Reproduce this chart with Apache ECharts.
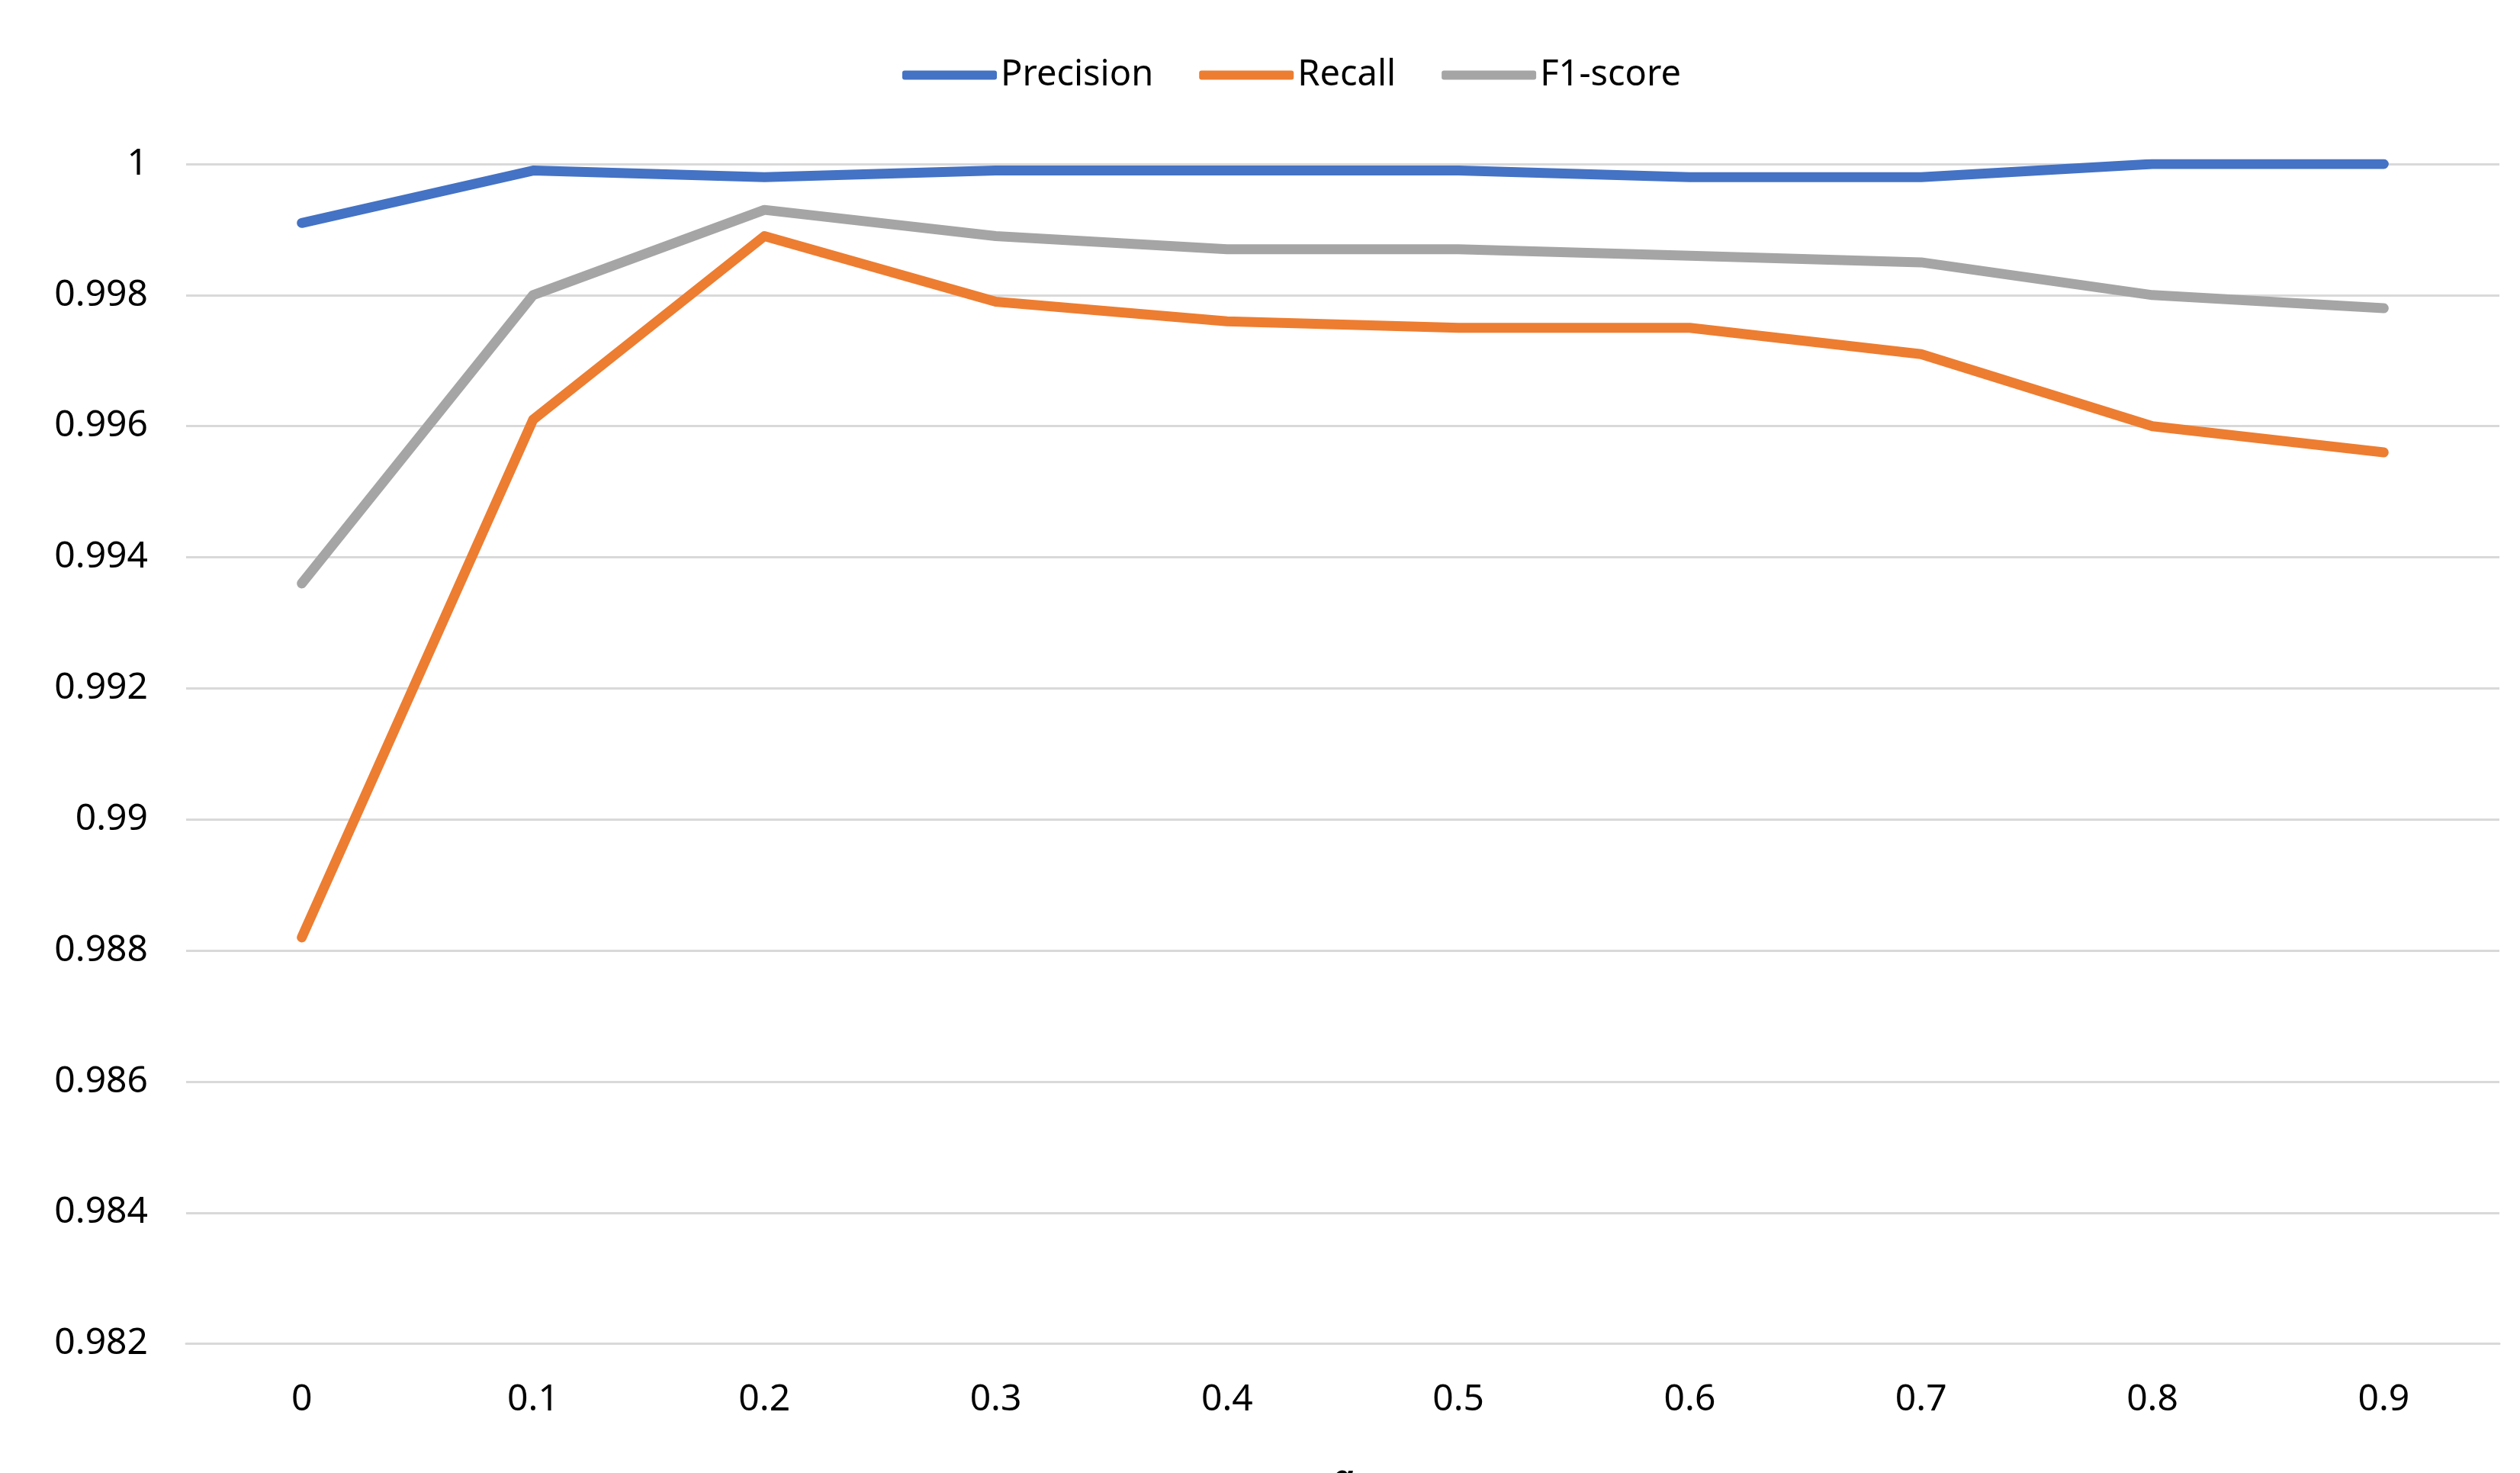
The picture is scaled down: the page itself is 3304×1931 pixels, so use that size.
<!DOCTYPE html>
<html>
<head>
<meta charset="utf-8">
<script src="https://cdn.jsdelivr.net/npm/echarts@6/dist/echarts.min.js"></script>
<style>
html,body{margin:0;padding:0;background:#fff;}
#chart{width:3304px;height:1931px;}
</style>
</head>
<body>
<div id="chart"></div>
<script>
const categories = ['0','0.1','0.2','0.3','0.4','0.5','0.6','0.7','0.8','0.9'];
const precision = [0.9991,0.9999,0.9998,0.9999,0.9999,0.9999,0.9998,0.9998,1.0,1.0];
const recall    = [0.9882,0.9961,0.9989,0.9979,0.9976,0.9975,0.9975,0.9971,0.9960,0.9956];
const f1score   = [0.9936,0.9980,0.9993,0.9989,0.9987,0.9987,0.9986,0.9985,0.9980,0.9978];
const seriesNames = ['Precision','Recall','F1-score'];
const yMin = 0.982, yMax = 1, yStep = 0.002;

const FONT = 'Noto Sans';
const colors = ['#4472C4','#ED7D31','#A5A5A5'];
const chart = echarts.init(document.getElementById('chart'));
const mk = (name, data, color) => ({
  name, type:'line', data, symbol:'none', color,
  lineStyle:{width:13, color, cap:'round', join:'round'}
});
chart.setOption({
  animation:false,
  backgroundColor:'#fff',
  legend:{
    top:70, left:1178,
    icon:'roundRect', itemWidth:124, itemHeight:12, itemGap:60,
    textStyle:{fontFamily:FONT, fontSize:47, color:'#000'},
    data:seriesNames
  },
  grid:{left:244, right:27, top:215, bottom:169.4, containLabel:false, outerBoundsMode:'none'},
  xAxis:{
    type:'category', data:categories, boundaryGap:true,
    axisLine:{show:true, lineStyle:{color:'#D9D9D9', width:3}},
    axisTick:{show:false},
    axisLabel:{fontFamily:FONT, fontSize:48, color:'#000', margin:50},
    name:'α', nameLocation:'middle', nameGap:155,
    nameTextStyle:{fontFamily:FONT, fontSize:50, fontWeight:'bold', fontStyle:'italic', color:'#000'}
  },
  yAxis:{
    type:'value', min:yMin, max:yMax, interval:yStep,
    axisLine:{show:false}, axisTick:{show:false},
    splitLine:{show:true, lineStyle:{color:'#D9D9D9', width:3}},
    axisLabel:{fontFamily:FONT, fontSize:48, color:'#000', margin:50,
      formatter:v=>String(parseFloat(v.toFixed(3)))}
  },
  series:[
    mk(seriesNames[0], precision, colors[0]),
    mk(seriesNames[1], recall, colors[1]),
    mk(seriesNames[2], f1score, colors[2])
  ]
});
</script>
</body>
</html>
